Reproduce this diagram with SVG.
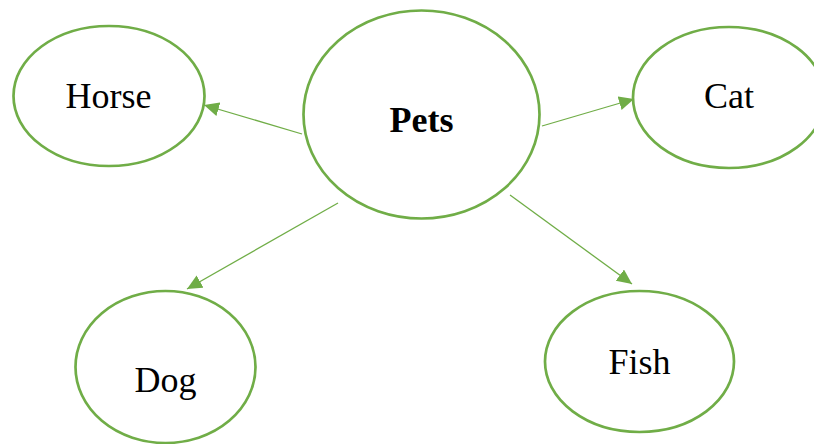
<svg xmlns="http://www.w3.org/2000/svg" width="814" height="444" viewBox="0 0 814 444">
<style>
.node{fill:#ffffff;stroke:#70AD47;stroke-width:2.7}
.edge{stroke:#70AD47;stroke-width:1.3;fill:none;marker-end:url(#ah)}
.lbl{font-family:"Liberation Serif","Times New Roman",serif;font-size:36px;fill:#000;text-anchor:middle}
.bold{font-weight:bold}
</style>
<defs>
<marker id="ah" markerUnits="userSpaceOnUse" markerWidth="15" markerHeight="15" refX="15" refY="7" orient="auto">
<path d="M0,0 L15,7 L0,14 z" fill="#70AD47"/>
</marker>
</defs>
<rect width="814" height="444" fill="#ffffff"/>
<g id="connectors">
<line class="edge" x1="302" y1="134" x2="204" y2="105"/>
<line class="edge" x1="542" y1="126" x2="634" y2="99"/>
<line class="edge" x1="338" y1="203" x2="187" y2="289"/>
<line class="edge" x1="510" y1="195" x2="632" y2="284"/>
</g>
<g id="pets">
<ellipse class="node" cx="421.5" cy="114.5" rx="118" ry="104"/>
<text class="lbl bold" x="421.5" y="132">Pets</text>
</g>
<g id="horse">
<ellipse class="node" cx="109" cy="96" rx="95.5" ry="70"/>
<text class="lbl" x="108.5" y="108">Horse</text>
</g>
<g id="cat">
<ellipse class="node" cx="729" cy="97.5" rx="96" ry="70.5"/>
<text class="lbl" x="729" y="108">Cat</text>
</g>
<g id="dog">
<ellipse class="node" cx="165.5" cy="367" rx="90" ry="76"/>
<text class="lbl" x="165.5" y="392">Dog</text>
</g>
<g id="fish">
<ellipse class="node" cx="639.5" cy="361.5" rx="94.5" ry="70.5"/>
<text class="lbl" x="639.5" y="374">Fish</text>
</g>
</svg>
